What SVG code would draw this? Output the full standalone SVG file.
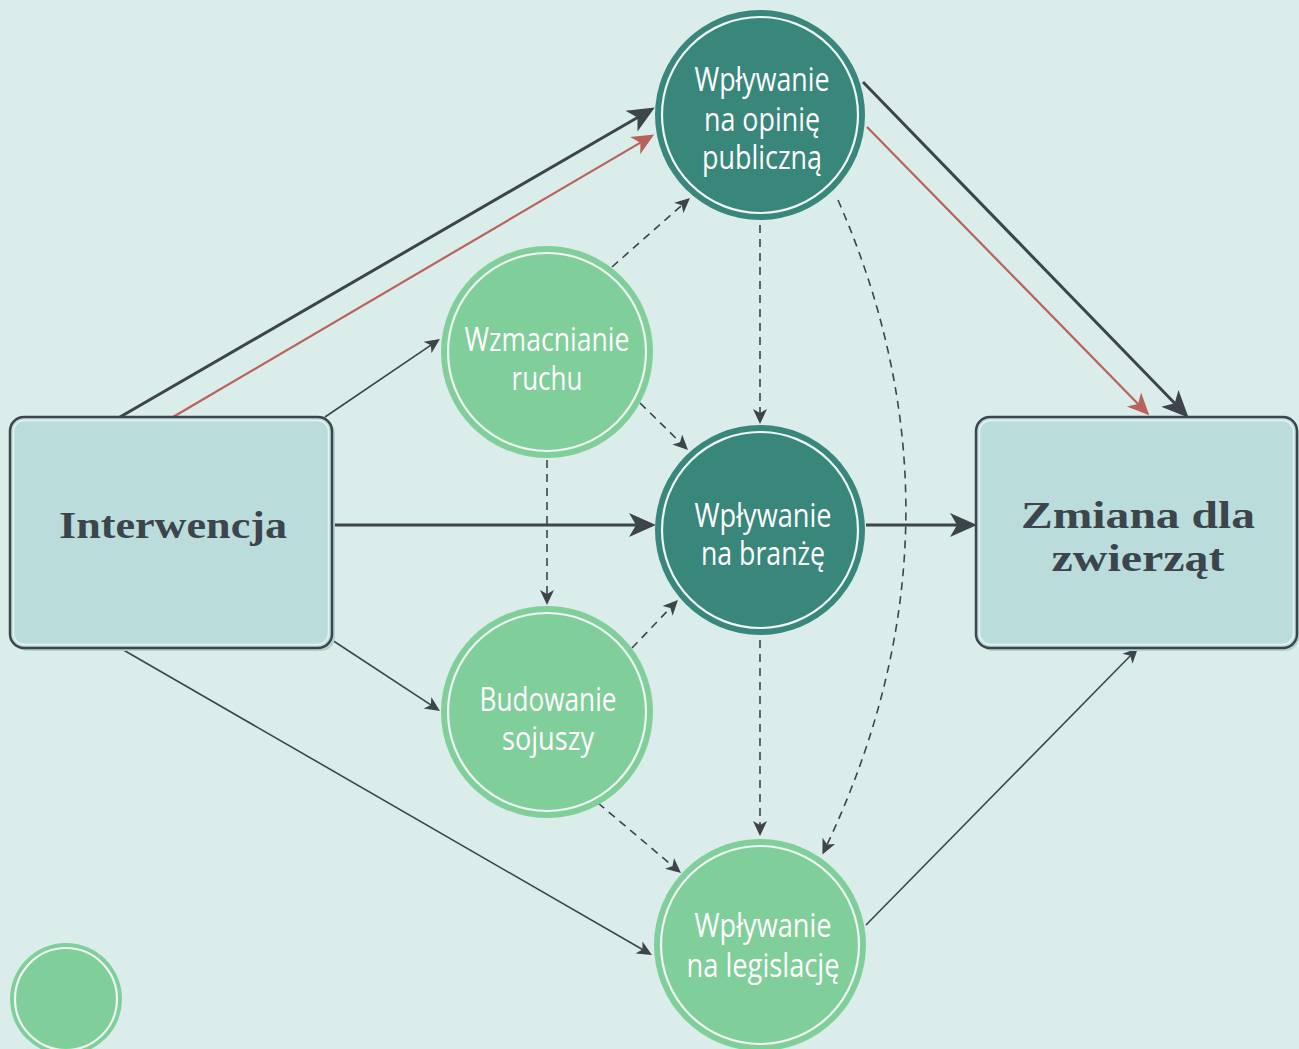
<svg xmlns="http://www.w3.org/2000/svg" width="1299" height="1049" viewBox="0 0 1299 1049">
<defs>
<marker id="big" markerUnits="userSpaceOnUse" viewBox="-20 -15 34 30" markerWidth="34" markerHeight="30" refX="0" refY="0" orient="auto">
<path d="M11,0 L-16,-12 L-9,0 L-16,12 Z" fill="#3d454b"/>
</marker>
<marker id="red" markerUnits="userSpaceOnUse" viewBox="-16 -12 28 24" markerWidth="28" markerHeight="24" refX="0" refY="0" orient="auto">
<path d="M9,0 L-13,-10 L-7,0 L-13,10 Z" fill="#b9625c"/>
</marker>
<marker id="small" markerUnits="userSpaceOnUse" viewBox="-12 -9 20 18" markerWidth="20" markerHeight="18" refX="0" refY="0" orient="auto">
<path d="M6,0 L-9,-7 L-5,0 L-9,7 Z" fill="#3d454b"/>
</marker>
</defs>
<style>
.thick{stroke:#3d454b;stroke-width:3;fill:none;marker-end:url(#big)}
.redl{stroke:#b9625c;stroke-width:2.2;fill:none;marker-end:url(#red)}
.thin{stroke:#3d454b;stroke-width:1.6;fill:none;marker-end:url(#small)}
.dash{stroke:#3d454b;stroke-width:1.6;fill:none;stroke-dasharray:8 6;marker-end:url(#small)}
.box{fill:#badddb;stroke:#3d454b;stroke-width:2.5}
.boxhl{fill:none;stroke:#e4f3f1;stroke-width:1.5}
.boxsh{fill:#b2d3d0}
.green{fill:#80ce9a}
.teal{fill:#39867b}
.ring{fill:none;stroke:#eef7f3;stroke-width:2.2}
.ct{font-family:"Open Sans","Noto Sans",sans-serif;font-size:32px;fill:#ffffff;text-anchor:middle}
.bt{font-family:"Liberation Serif","DejaVu Serif",serif;font-weight:bold;font-size:37px;fill:#3b454b;text-anchor:middle}
</style>
<rect width="1299" height="1049" fill="#dbedea"/>

<g id="connectors">
<path class="thick" d="M120,417 L645.3,113"/>
<path class="redl" d="M173,417 L646.4,139.1"/>
<path class="thick" d="M332,525 L645,525"/>
<path class="thick" d="M866,525 L966,525"/>
<path class="thick" d="M863,82 L1181,409.8"/>
<path class="redl" d="M867,127 L1143,408.9"/>
<path class="thin" d="M325,417 L435,342.4"/>
<path class="thin" d="M332,640 L435,707.7"/>
<path class="thin" d="M120,648 L646.8,952"/>
<path class="thin" d="M866,925 L1133.8,652.3"/>
<path class="dash" d="M612,267 L685.5,202"/>
<path class="dash" d="M640,403 L683.7,445.8"/>
<path class="dash" d="M760,225 L760,418"/>
<path class="dash" d="M547,460 L547,599"/>
<path class="dash" d="M632,648 L673.8,604.3"/>
<path class="dash" d="M598,803 L676.4,869.1"/>
<path class="dash" d="M760,640 L760,830"/>
<path class="dash" d="M838,200 Q980,524 825,849"/>
</g>

<g id="interwencja">
<rect class="boxsh" x="13" y="420" width="322" height="231" rx="14"/>
<rect class="box" x="10" y="417" width="322" height="231" rx="14"/>
<rect class="boxhl" x="13.5" y="420.5" width="315" height="224" rx="11"/>
<text class="bt" x="173" y="538" textLength="228" lengthAdjust="spacingAndGlyphs">Interwencja</text>
</g>

<g id="zmiana">
<rect class="boxsh" x="979" y="420" width="320" height="231" rx="14"/>
<rect class="box" x="976" y="417" width="321" height="231" rx="14"/>
<rect class="boxhl" x="979.5" y="420.5" width="314" height="224" rx="11"/>
<text class="bt" x="1138" y="528" textLength="234" lengthAdjust="spacingAndGlyphs">Zmiana dla</text>
<text class="bt" x="1138" y="571" textLength="173" lengthAdjust="spacingAndGlyphs">zwierząt</text>
</g>

<g id="opinia">
<circle class="teal" cx="760" cy="115" r="105"/>
<circle class="ring" cx="760" cy="115" r="98"/>
<text class="ct" x="762" y="91" textLength="135" lengthAdjust="spacingAndGlyphs">Wpływanie</text>
<text class="ct" x="762" y="131" textLength="116" lengthAdjust="spacingAndGlyphs">na opinię</text>
<text class="ct" x="762" y="169" textLength="120" lengthAdjust="spacingAndGlyphs">publiczną</text>
</g>

<g id="ruch">
<circle class="green" cx="547" cy="352" r="106"/>
<circle class="ring" cx="547" cy="352" r="99"/>
<text class="ct" x="547" y="351" textLength="165" lengthAdjust="spacingAndGlyphs">Wzmacnianie</text>
<text class="ct" x="547" y="390" textLength="71" lengthAdjust="spacingAndGlyphs">ruchu</text>
</g>

<g id="branza">
<circle class="teal" cx="760" cy="530" r="105"/>
<circle class="ring" cx="760" cy="530" r="98"/>
<text class="ct" x="763" y="527" textLength="137" lengthAdjust="spacingAndGlyphs">Wpływanie</text>
<text class="ct" x="763" y="565" textLength="124" lengthAdjust="spacingAndGlyphs">na branżę</text>
</g>

<g id="sojusze">
<circle class="green" cx="547" cy="712" r="106"/>
<circle class="ring" cx="547" cy="712" r="99"/>
<text class="ct" x="548" y="711" textLength="137" lengthAdjust="spacingAndGlyphs">Budowanie</text>
<text class="ct" x="548" y="750" textLength="92" lengthAdjust="spacingAndGlyphs">sojuszy</text>
</g>

<g id="legislacja">
<circle class="green" cx="760" cy="945" r="106"/>
<circle class="ring" cx="760" cy="945" r="99"/>
<text class="ct" x="763" y="937" textLength="137" lengthAdjust="spacingAndGlyphs">Wpływanie</text>
<text class="ct" x="763" y="977" textLength="153" lengthAdjust="spacingAndGlyphs">na legislację</text>
</g>

<g id="legend">
<circle class="green" cx="66" cy="999" r="56"/>
<circle class="ring" cx="66" cy="999" r="51"/>
</g>
</svg>
